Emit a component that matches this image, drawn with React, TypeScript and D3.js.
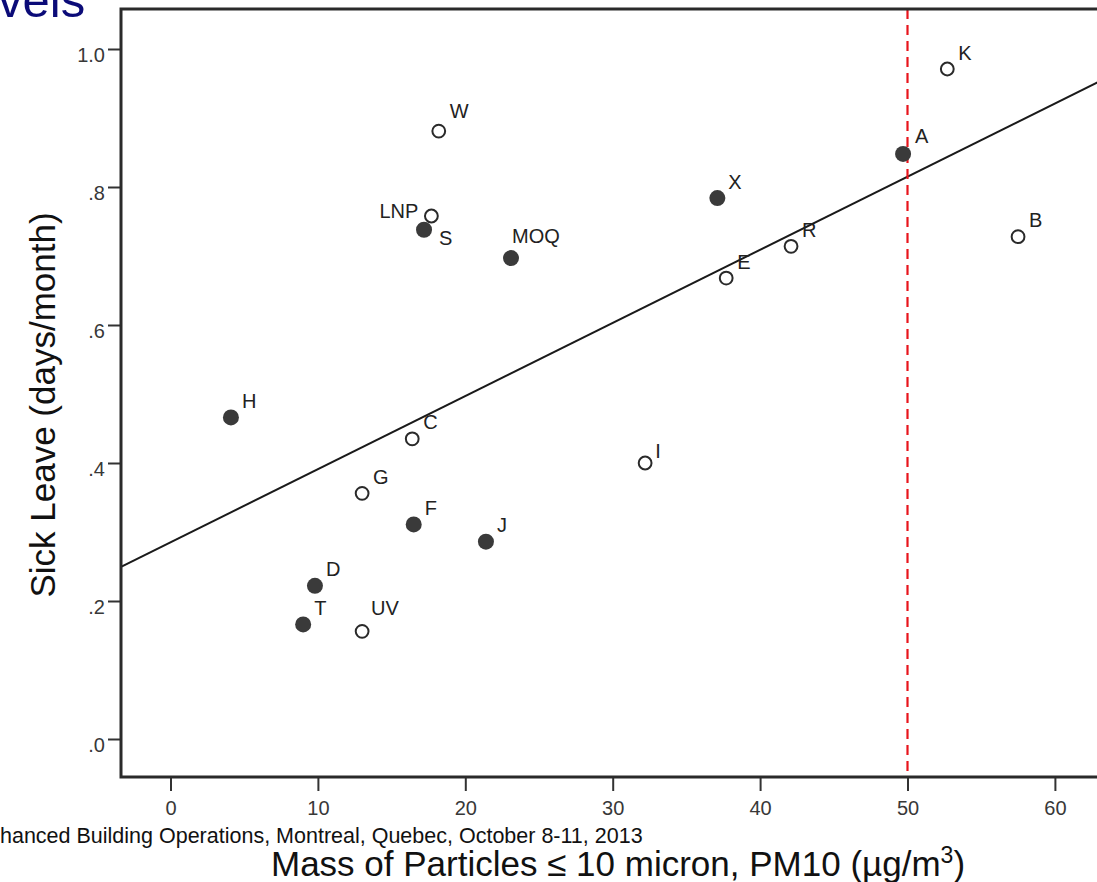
import * as d3 from 'd3';
import { useEffect, useRef } from 'react';

// building codes, PM10 mass (ug/m3) and sick leave (days/month)
const codes = ['K', 'A', 'W', 'X', 'LNP', 'S', 'MOQ', 'E', 'R', 'B', 'H', 'C', 'G', 'F', 'J', 'D', 'T', 'UV', 'I'];
const pm10 = [52.7, 49.7, 18.2, 37.1, 17.7, 17.2, 23.1, 37.7, 42.1, 57.5, 4.1, 16.4, 13.0, 16.5, 21.4, 9.8, 9.0, 13.0, 32.2];
const sickLeave = [0.971, 0.848, 0.881, 0.784, 0.758, 0.738, 0.697, 0.668, 0.714, 0.728, 0.466, 0.435, 0.356, 0.311, 0.286, 0.222, 0.166, 0.156, 0.4];
const filled = [false, true, false, true, false, true, true, false, false, false, true, false, false, true, true, true, true, false, false];

const xTicks = [0, 10, 20, 30, 40, 50, 60];
const yTicks = [0, 0.2, 0.4, 0.6, 0.8, 1.0];

// fitted line and guideline
const fitIntercept = 0.285;
const fitSlope = 0.0106;
const limitPM10 = 50;

const FONT = "'Liberation Sans', Arial, sans-serif";

export default function App() {
  const svgRef = useRef<SVGSVGElement>(null);
  const width = 1097;
  const height = 882;
  const left = 121;
  const right = 1112;
  const top = 9;
  const bottom = 777;

  useEffect(() => {
    const svg = d3.select(svgRef.current);
    svg.selectAll('*').remove();

    const x = d3.scaleLinear().domain([0, 60]).range([170.5, 1054.9]);
    const y = d3.scaleLinear().domain([0, 1]).range([739, 49]);

    // regression line
    const xa = x.invert(left);
    const xb = x.invert(right);
    svg
      .append('line')
      .attr('x1', x(xa))
      .attr('y1', y(fitIntercept + fitSlope * xa))
      .attr('x2', x(xb))
      .attr('y2', y(fitIntercept + fitSlope * xb))
      .attr('stroke', '#1a1a1a')
      .attr('stroke-width', 2);

    // red dashed limit
    svg
      .append('line')
      .attr('x1', x(limitPM10))
      .attr('x2', x(limitPM10))
      .attr('y1', top)
      .attr('y2', bottom)
      .attr('stroke', '#e8141c')
      .attr('stroke-width', 2.2)
      .attr('stroke-dasharray', '10,6');

    const pts = codes.map((c, i) => ({ code: c, x: pm10[i], y: sickLeave[i], filled: filled[i] }));

    svg
      .append('g')
      .selectAll('circle')
      .data(pts)
      .join('circle')
      .attr('cx', (d) => x(d.x))
      .attr('cy', (d) => y(d.y))
      .attr('r', (d) => (d.filled ? 8 : 6.4))
      .attr('fill', (d) => (d.filled ? '#3a3a3a' : '#fff'))
      .attr('stroke', (d) => (d.filled ? 'none' : '#2a2a2a'))
      .attr('stroke-width', 2);

    // label placement (dx, dy, anchor)
    const place = (c: string): [number, number, string] => {
      if (c === 'LNP') return [-13, 2, 'end'];
      if (c === 'S') return [15, 15, 'start'];
      if (c === 'MOQ') return [1, -15, 'start'];
      if (c === 'UV') return [9, -16, 'start'];
      if (c === 'W') return [11, -13, 'start'];
      if (c === 'I') return [10, -5, 'start'];
      if (c === 'A') return [12, -11, 'start'];
      return [11, -9.5, 'start'];
    };

    svg
      .append('g')
      .selectAll('text')
      .data(pts)
      .join('text')
      .attr('x', (d) => x(d.x) + place(d.code)[0])
      .attr('y', (d) => y(d.y) + place(d.code)[1])
      .attr('text-anchor', (d) => place(d.code)[2])
      .attr('font-family', FONT)
      .attr('font-size', 20)
      .attr('fill', '#222')
      .text((d) => d.code);

    // axes
    const fmt = (d: number) => d3.format('.1f')(d).replace(/^0/, '');
    svg
      .append('g')
      .attr('transform', `translate(${left},0)`)
      .call(d3.axisLeft(y).tickValues(yTicks).tickFormat(fmt as any).tickSize(13).tickPadding(3))
      .call((g) => g.select('.domain').remove())
      .call((g) => g.selectAll('.tick line').attr('stroke', '#333').attr('stroke-width', 2))
      .call((g) =>
        g
          .selectAll('.tick text')
          .attr('dy', '0.62em')
          .attr('fill', '#383838')
          .attr('font-size', 20)
          .attr('font-family', FONT)
      );

    svg
      .append('g')
      .attr('transform', `translate(0,${bottom})`)
      .call(d3.axisBottom(x).tickValues(xTicks).tickSize(14).tickPadding(10))
      .call((g) => g.select('.domain').remove())
      .call((g) => g.selectAll('.tick line').attr('stroke', '#333').attr('stroke-width', 2))
      .call((g) =>
        g.selectAll('.tick text').attr('fill', '#383838').attr('font-size', 20).attr('font-family', FONT)
      );

    // frame
    svg
      .append('path')
      .attr('d', `M${right},${top}H${left}V${bottom}H${right}`)
      .attr('fill', 'none')
      .attr('stroke', '#2a2a2a')
      .attr('stroke-width', 3);
  }, []);

  return (
    <div style={{ position: 'absolute', left: 0, top: 0 }}>
      <svg ref={svgRef} width={width} height={height} style={{ display: 'block', background: '#fff' }} />
      <svg
        width={width}
        height={height}
        style={{ position: 'absolute', left: 0, top: 0, pointerEvents: 'none' }}
      >
        <text x={-2} y={17} fontFamily={FONT} fontSize={49} fill="#0b0b78">
          vels
        </text>
        <text
          transform="translate(55,405) rotate(-90)"
          textAnchor="middle"
          fontFamily={FONT}
          fontSize={35}
          fill="#111"
        >
          Sick Leave (days/month)
        </text>
        <text x={0} y={843} fontFamily={FONT} fontSize={21.5} fill="#111">
          hanced Building Operations, Montreal, Quebec, October 8-11, 2013
        </text>
        <text x={271} y={876} fontFamily={FONT} fontSize={35} fill="#111">
          Mass of Particles ≤ 10 micron, PM10 (µg/m
          <tspan dy={-13} fontSize={23}>
            3
          </tspan>
          <tspan dy={13}>)</tspan>
        </text>
      </svg>
    </div>
  );
}
